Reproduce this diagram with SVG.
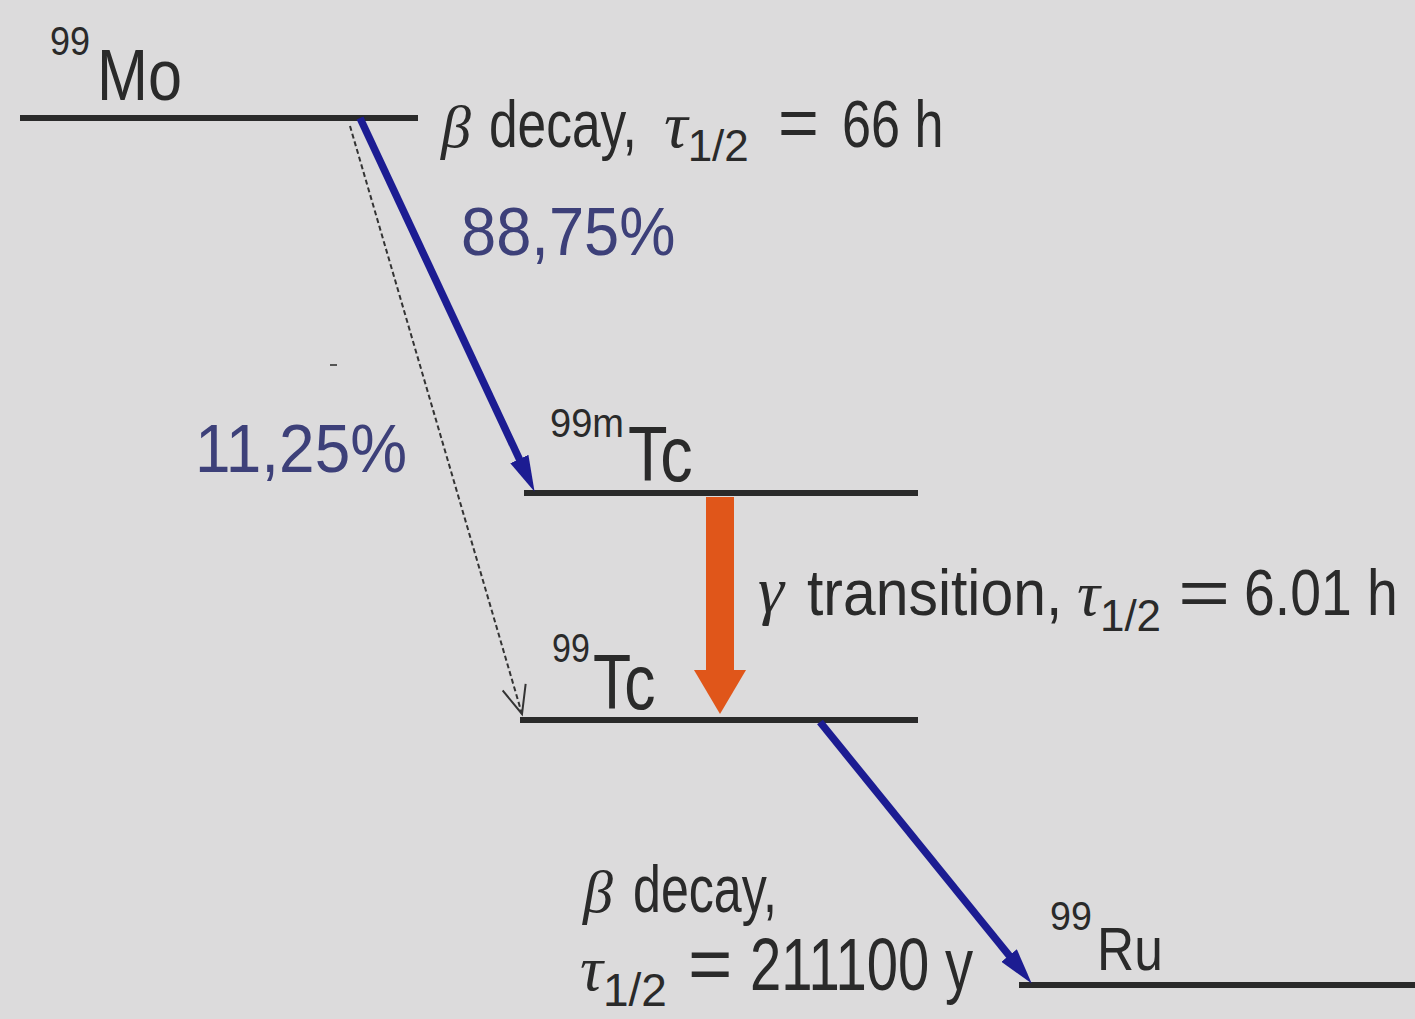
<svg xmlns="http://www.w3.org/2000/svg" width="1415" height="1019" viewBox="0 0 1415 1019">
<style>
.lvl{stroke:#2a2a2a;stroke-width:6;fill:none}
.t{font-family:"Liberation Sans",Arial,sans-serif;fill:#2a2a2a}
.g{font-family:"Liberation Serif","Times New Roman",serif;font-style:italic;fill:#2a2a2a}
.sub{font-family:"Liberation Sans",Arial,sans-serif;font-style:normal;fill:#2a2a2a}
.pct{font-family:"Liberation Sans",Arial,sans-serif;fill:#3d4079;font-size:68px}
.blue{stroke:#1c1c92;stroke-width:7.5;fill:none}
.dash{stroke:#333;stroke-width:2;stroke-dasharray:5 3;fill:none}
.orange{stroke:#e0561a;stroke-width:28;fill:none}
</style>
<defs>
<marker id="hb" markerUnits="userSpaceOnUse" markerWidth="36" markerHeight="20" refX="11" refY="10" orient="auto"><path d="M0,0 L36,10 L0,20 z" fill="#1c1c92"/></marker>
<marker id="hv" markerUnits="userSpaceOnUse" markerWidth="32" markerHeight="26" refX="29" refY="13" orient="auto"><path d="M1,1 L29,13 L1,25" fill="none" stroke="#333" stroke-width="2" stroke-dasharray="none"/></marker>
<marker id="ho" markerUnits="userSpaceOnUse" markerWidth="44" markerHeight="52" refX="2" refY="26" orient="auto"><path d="M0,0 L44,26 L0,52 z" fill="#e0561a"/></marker>
</defs>
<rect width="1415" height="1019" fill="#dcdbdc"/>

<g id="mo99">
<line class="lvl" x1="20" y1="118" x2="418" y2="118"/>
<text class="t" transform="translate(50,55) scale(0.9,1)" font-size="40">99</text>
<text class="t" transform="translate(97,100) scale(0.85,1)" font-size="72">Mo</text>
</g>

<g id="tc99m">
<line class="lvl" x1="524" y1="493" x2="918" y2="493"/>
<text class="t" transform="translate(550,437) scale(0.95,1)" font-size="40">99m</text>
<text class="t" transform="translate(628,481) scale(0.83,1)" font-size="78">Tc</text>
</g>

<g id="tc99">
<line class="lvl" x1="520" y1="720" x2="918" y2="720"/>
<text class="t" transform="translate(552,662) scale(0.85,1)" font-size="40">99</text>
<text class="t" transform="translate(593,709) scale(0.8,1)" font-size="78">Tc</text>
</g>

<g id="ru99">
<line class="lvl" x1="1019" y1="985" x2="1415" y2="985"/>
<text class="t" transform="translate(1050,930) scale(0.94,1)" font-size="40">99</text>
<text class="t" transform="translate(1097,970) scale(0.83,1)" font-size="62">Ru</text>
</g>

<g id="connectors">
<line class="blue" x1="360" y1="118" x2="524" y2="469" marker-end="url(#hb)"/>
<line class="dash" x1="350" y1="126" x2="522" y2="714" marker-end="url(#hv)"/>
<line class="orange" x1="720" y1="497" x2="720" y2="672" marker-end="url(#ho)"/>
<line class="blue" x1="820" y1="722" x2="1016" y2="964" marker-end="url(#hb)"/>
</g>

<g id="labels">
<text class="g" x="441" y="147" font-size="60">β</text>
<text class="t" transform="translate(489,147) scale(0.78,1)" font-size="66">decay,</text>
<text class="g" x="664" y="147" font-size="66">τ<tspan class="sub" dy="14" font-size="44">1/2</tspan></text>
<text class="t" x="778" y="147" font-size="70">=</text>
<text class="t" transform="translate(842,147) scale(0.79,1)" font-size="66">66 h</text>

<text class="pct" transform="translate(461,255) scale(0.93,1)">88,75%</text>
<text class="pct" transform="translate(195,472) scale(0.94,1)">11,25%</text>
<line x1="330" y1="365" x2="337" y2="365" stroke="#555" stroke-width="2"/>

<text class="g" x="758" y="612" font-size="66">γ</text>
<text class="t" transform="translate(807,615) scale(0.92,1)" font-size="64">transition,</text>
<text class="g" x="1077" y="615" font-size="64">τ<tspan class="sub" dy="16" font-size="44">1/2</tspan></text>
<text class="t" transform="translate(1178,615) scale(1.4,1)" font-size="64">=</text>
<text class="t" transform="translate(1244,615) scale(0.865,1)" font-size="64">6.01 h</text>

<text class="g" x="583" y="912" font-size="60">β</text>
<text class="t" transform="translate(633,912) scale(0.76,1)" font-size="66">decay,</text>
<text class="g" x="580" y="990" font-size="64">τ<tspan class="sub" dy="16" font-size="46">1/2</tspan></text>
<text class="t" x="688" y="990" font-size="76">=</text>
<text class="t" transform="translate(750,990) scale(0.76,1)" font-size="74">211100 y</text>
</g>
</svg>
